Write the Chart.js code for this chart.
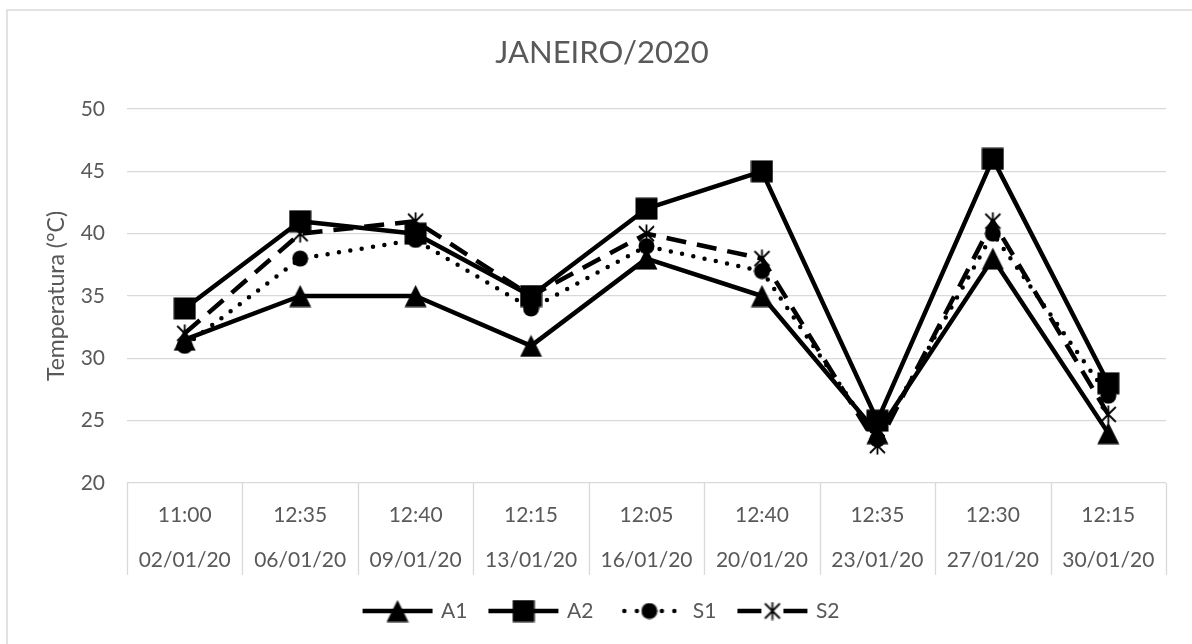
<!DOCTYPE html>
<html lang="pt">
<head>
<meta charset="utf-8">
<title>JANEIRO/2020</title>
<script src="https://cdn.jsdelivr.net/npm/chart.js@4.4.1/dist/chart.umd.min.js"></script>
<style>
    html, body { margin: 0; padding: 0; background: #ffffff; }
    #wrap { width: 1192px; height: 644px; position: relative; }
</style>
</head>
<body>
<div id="wrap"><canvas id="temp-chart" width="1192" height="644"></canvas></div>
<script>
// reading times and dates (two-row category axis)
const horarios = ['11:00', '12:35', '12:40', '12:15', '12:05', '12:40', '12:35', '12:30', '12:15'];
const datas = ['02/01/20', '06/01/20', '09/01/20', '13/01/20', '16/01/20', '20/01/20', '23/01/20', '27/01/20', '30/01/20'];

// temperatures in °C
const serieA1 = [31.5, 35, 35, 31, 38, 35, 24, 38, 24];
const serieA2 = [34, 41, 40, 35, 42, 45, 25, 46, 28];
const serieS1 = [31, 38, 39.5, 34, 39, 37, 23.5, 40, 27];
const serieS2 = [32, 40, 41, 35, 40, 38, 23, 41, 25.5];

const seriesNames = ['A1', 'A2', 'S1', 'S2'];
const yTicks = [20, 25, 30, 35, 40, 45, 50];

(function() {
    'use strict';

    const TEXT = '#595959';
    const GRID = '#d9d9d9';
    const FONT = 'Lato, "Open Sans", sans-serif';

    const TempChart = {
        init: function() {
            this.markers = {
                triangle: this.makeMarker('triangle'),
                square: this.makeMarker('square'),
                circle: this.makeMarker('circle'),
                star: this.makeMarker('star')
            };
            this.buildChart();
        },

        // Excel-like marker glyphs
        makeMarker: function(kind) {
            const size = kind === 'circle' ? 17 : (kind === 'star' ? 19 : 23);
            const c = document.createElement('canvas');
            c.width = size;
            c.height = size;
            const g = c.getContext('2d');
            const m = size / 2;
            g.fillStyle = '#000';
            g.strokeStyle = '#000';
            g.beginPath();
            if (kind === 'triangle') {
                g.moveTo(m, 0.5);
                g.lineTo(size - 0.5, size - 0.5);
                g.lineTo(0.5, size - 0.5);
                g.closePath();
                g.fill();
            } else if (kind === 'square') {
                g.fillRect(0.5, 0.5, size - 1, size - 1);
            } else if (kind === 'circle') {
                g.arc(m, m, m - 0.5, 0, Math.PI * 2);
                g.fill();
            } else {
                g.lineWidth = 1.8;
                g.moveTo(2, 2); g.lineTo(size - 2, size - 2);
                g.moveTo(size - 2, 2); g.lineTo(2, size - 2);
                g.moveTo(m, 0.5); g.lineTo(m, size - 0.5);
                g.stroke();
            }
            return c;
        },

        // line sample + marker used as the legend symbol
        makeLegendSample: function(kind) {
            const c = document.createElement('canvas');
            c.width = 72;
            c.height = 24;
            const g = c.getContext('2d');
            g.strokeStyle = '#000';
            g.lineWidth = 4.5;
            g.beginPath();
            if (kind === 'circle') {
                g.lineCap = 'round';
                g.setLineDash([0, 12.5]);
                g.moveTo(11, 12); g.lineTo(70, 12);
            } else if (kind === 'star') {
                g.moveTo(1, 12); g.lineTo(25, 12);
                g.moveTo(47, 12); g.lineTo(71, 12);
            } else {
                g.moveTo(1, 12); g.lineTo(71, 12);
            }
            g.stroke();
            const mk = this.markers[kind];
            g.drawImage(mk, 36 - mk.width / 2, 12 - mk.height / 2);
            return c;
        },

        dataset: function(label, data, kind, extra) {
            return Object.assign({
                label: label,
                data: data,
                borderColor: '#000',
                backgroundColor: '#000',
                borderWidth: 4.5,
                borderJoinStyle: 'round',
                tension: 0,
                fill: false,
                pointStyle: this.markers[kind],
                pointRadius: 10,
                pointHoverRadius: 10
            }, extra || {});
        },

        buildChart: function() {
            const kinds = ['triangle', 'square', 'circle', 'star'];
            const samples = kinds.map(k => this.makeLegendSample(k));

            // grey frame and the category table under the plot
            const framePlugin = {
                id: 'frame',
                beforeDraw: function(chart) {
                    const ctx = chart.ctx;
                    ctx.save();
                    ctx.fillStyle = '#fff';
                    ctx.fillRect(0, 0, chart.width, chart.height);
                    ctx.strokeStyle = GRID;
                    ctx.lineWidth = 1.5;
                    ctx.strokeRect(7, 10, chart.width + 20, chart.height + 20);
                    ctx.restore();
                },
                afterDraw: function(chart) {
                    const ctx = chart.ctx;
                    const x = chart.scales.x;
                    const area = chart.chartArea;
                    const step = x.getPixelForValue(1) - x.getPixelForValue(0);
                    ctx.save();
                    ctx.strokeStyle = GRID;
                    ctx.lineWidth = 1.3;
                    ctx.beginPath();
                    for (let i = 0; i <= datas.length; i++) {
                        const px = Math.round(x.getPixelForValue(i) - step / 2) + 0.5;
                        ctx.moveTo(px, area.bottom);
                        ctx.lineTo(px, area.bottom + 92);
                    }
                    ctx.stroke();
                    ctx.restore();
                }
            };

            const ctx = document.getElementById('temp-chart').getContext('2d');
            this.chart = new Chart(ctx, {
                type: 'line',
                data: {
                    labels: horarios.map((h, i) => [h, datas[i]]),
                    datasets: [
                        this.dataset('A1', serieA1, 'triangle', { order: 4 }),
                        this.dataset('A2', serieA2, 'square', { order: 3 }),
                        this.dataset('S1', serieS1, 'circle', {
                            order: 2,
                            borderDash: [0, 11.5],
                            borderCapStyle: 'round'
                        }),
                        this.dataset('S2', serieS2, 'star', {
                            order: 1,
                            borderDash: [20, 11]
                        })
                    ]
                },
                options: {
                    responsive: false,
                    animation: false,
                    events: [],
                    layout: {
                        padding: { left: 38, right: 26, top: 0, bottom: 12.5 }
                    },
                    plugins: {
                        tooltip: { enabled: false },
                        title: {
                            display: true,
                            text: 'JANEIRO/2020',
                            color: TEXT,
                            font: { family: FONT, size: 31, weight: 'normal', lineHeight: 1.2 },
                            padding: { top: 34.4, bottom: 37.4 }
                        },
                        legend: {
                            display: true,
                            position: 'bottom',
                            labels: {
                                usePointStyle: true,
                                pointStyleWidth: 66,
                                padding: 23,
                                color: TEXT,
                                font: { family: FONT, size: 21 },
                                generateLabels: function() {
                                    return seriesNames.map((name, i) => ({
                                        text: name,
                                        pointStyle: samples[i],
                                        fontColor: TEXT,
                                        fillStyle: 'transparent',
                                        strokeStyle: 'transparent',
                                        lineWidth: 0,
                                        hidden: false,
                                        datasetIndex: i
                                    }));
                                }
                            }
                        }
                    },
                    scales: {
                        x: {
                            offset: true,
                            grid: { display: false, drawTicks: false },
                            border: { display: false },
                            ticks: {
                                color: TEXT,
                                padding: 9.5,
                                maxRotation: 0,
                                autoSkip: false,
                                font: { family: FONT, size: 21, lineHeight: 2.143 }
                            },
                            afterFit: function(scale) { scale.height = 94.5; }
                        },
                        y: {
                            min: yTicks[0],
                            max: yTicks[yTicks.length - 1],
                            afterBuildTicks: function(scale) {
                                scale.ticks = yTicks.map(v => ({ value: v }));
                            },
                            grid: { color: GRID, lineWidth: 1.3, drawTicks: false },
                            border: { display: false },
                            ticks: {
                                color: TEXT,
                                padding: 22,
                                font: { family: FONT, size: 21 }
                            },
                            title: {
                                display: true,
                                text: 'Temperatura (°C)',
                                color: TEXT,
                                font: { family: FONT, size: 23 },
                                padding: { top: 5.2, bottom: 0 }
                            },
                            afterFit: function(scale) { scale.width = 89; }
                        }
                    }
                },
                plugins: [framePlugin]
            });
        }
    };

    const start = () => TempChart.init();
    if (document.fonts && document.fonts.load) {
        document.fonts.load('21px Lato').then(start, start);
    } else {
        start();
    }
})();
</script>
</body>
</html>
